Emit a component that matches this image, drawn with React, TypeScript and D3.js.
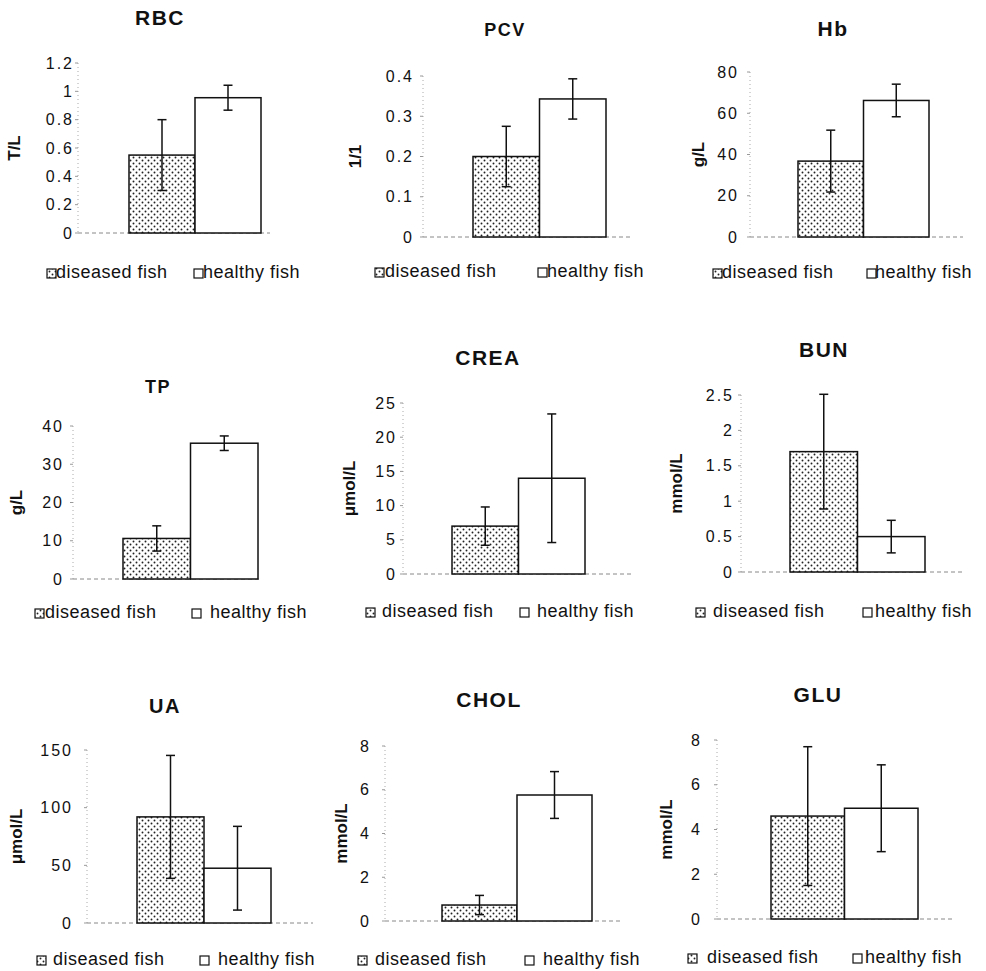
import * as d3 from "d3";
import React from "react";

// values (mean and error half-length)
const titles = ["RBC", "PCV", "Hb", "TP", "CREA", "BUN", "UA", "CHOL", "GLU"];
const units = ["T/L", "1/1", "g/L", "g/L", "μmol/L", "mmol/L", "μmol/L", "mmol/L", "mmol/L"];
const yMax = [1.2, 0.4, 80, 40, 25, 2.5, 150, 8, 8];
const yStep = [0.2, 0.1, 20, 10, 5, 0.5, 50, 2, 2];
const diseasedMean = [0.55, 0.2, 36.8, 10.6, 7.0, 1.7, 92, 0.73, 4.6];
const diseasedErr = [0.25, 0.075, 15, 3.3, 2.8, 0.81, 53.3, 0.44, 3.1];
const healthyMean = [0.955, 0.343, 66.2, 35.5, 14.0, 0.5, 47.5, 5.76, 4.95];
const healthyErr = [0.088, 0.05, 7.9, 1.9, 9.4, 0.23, 36.3, 1.07, 1.94];
const groups = ["diseased fish", "healthy fish"];

// panel frames on the page
const layout = [
  { ax: 78, tickR: 72, xEnd: 270, yTop: 63, yBase: 233, barL: 129, barR: 261, tx: 160, ty: 25, tSize: 21, lx: 14, legY: 278, leg: [47, 56, 194, 203] },
  { ax: 423, tickR: 412, xEnd: 633, yTop: 76, yBase: 237, barL: 473, barR: 606, tx: 505, ty: 36, tSize: 18, lx: 355, legY: 277, leg: [375, 385, 538, 547] },
  { ax: 750, tickR: 737, xEnd: 963, yTop: 72, yBase: 237, barL: 798, barR: 929, tx: 833, ty: 36, tSize: 21, lx: 698, legY: 278, leg: [713, 722, 867, 875] },
  { ax: 73, tickR: 62, xEnd: 262, yTop: 426, yBase: 579, barL: 123, barR: 258, tx: 158, ty: 393, tSize: 18, lx: 16, legY: 618, leg: [35, 45, 192, 210] },
  { ax: 403, tickR: 395, xEnd: 633, yTop: 403, yBase: 574, barL: 452, barR: 585, tx: 488, ty: 365, tSize: 21, lx: 349, legY: 617, leg: [366, 382, 520, 537] },
  { ax: 741, tickR: 732, xEnd: 962, yTop: 395, yBase: 572, barL: 790, barR: 925, tx: 824, ty: 357, tSize: 21, lx: 676, legY: 617, leg: [696, 713, 863, 875] },
  { ax: 87, tickR: 71, xEnd: 313, yTop: 750, yBase: 923, barL: 137, barR: 271, tx: 165, ty: 713, tSize: 20, lx: 16, legY: 965, leg: [37, 53, 200, 218] },
  { ax: 385, tickR: 369, xEnd: 620, yTop: 746, yBase: 921, barL: 442, barR: 592, tx: 489, ty: 707, tSize: 21, lx: 341, legY: 965, leg: [358, 375, 525, 543] },
  { ax: 717, tickR: 700, xEnd: 953, yTop: 740, yBase: 919, barL: 771, barR: 918, tx: 818, ty: 702, tSize: 21, lx: 666, legY: 963, leg: [688, 707, 853, 865] },
];

const font = "'Liberation Sans', Arial, sans-serif";
const ink = "#111";

const Panel = ({ i }: { i: number }) => {
  const L = layout[i];
  const y = d3.scaleLinear().domain([0, yMax[i]]).range([L.yBase, L.yTop]);
  const x = d3.scaleBand().domain(groups).range([L.barL, L.barR]).padding(0);
  const ticks = d3.range(0, yMax[i] + yStep[i] / 2, yStep[i]).map((v) => +v.toFixed(3));
  const means = [diseasedMean[i], healthyMean[i]];
  const errs = [diseasedErr[i], healthyErr[i]];

  return (
    <g>
      {/* タイトル */}
      <text x={L.tx} y={L.ty} textAnchor="middle" fontFamily={font} fontWeight="bold" fontSize={L.tSize} letterSpacing={1.5} fill={ink}>
        {titles[i]}
      </text>
      {/* 単位 */}
      <text
        transform={`translate(${L.lx}, ${(L.yTop + L.yBase) / 2}) rotate(-90)`}
        textAnchor="middle"
        dominantBaseline="central"
        fontFamily={font}
        fontWeight="bold"
        fontSize={17}
        fill={ink}
      >
        {units[i]}
      </text>
      {/* y軸 */}
      <line x1={L.ax} x2={L.ax} y1={L.yTop} y2={L.yBase} stroke="#aaa" strokeWidth={1} strokeDasharray="1,3" />
      {ticks.map((t) => (
        <g key={t}>
          <line x1={L.ax - 3} x2={L.ax} y1={y(t)} y2={y(t)} stroke="#999" />
          <text x={L.tickR + 2} y={y(t)} textAnchor="end" dominantBaseline="central" fontFamily={font} fontSize={16} letterSpacing={2} fill={ink}>
            {String(t)}
          </text>
        </g>
      ))}
      {/* x軸 */}
      <line x1={L.ax} x2={L.xEnd} y1={L.yBase} y2={L.yBase} stroke="#888" strokeWidth={1} strokeDasharray="4,3" />
      {/* 棒 */}
      {groups.map((g, k) => (
        <rect
          key={g}
          x={x(g)}
          y={y(means[k])}
          width={x.bandwidth()}
          height={L.yBase - y(means[k])}
          fill={k === 0 ? "url(#dots)" : "#fff"}
          stroke={ink}
          strokeWidth={1.5}
        />
      ))}
      {/* 誤差棒 */}
      {groups.map((g, k) => {
        const cx = (x(g) as number) + x.bandwidth() / 2;
        const top = y(means[k] + errs[k]);
        const bot = y(means[k] - errs[k]);
        return (
          <g key={g} stroke={ink} strokeWidth={1.5}>
            <line x1={cx} x2={cx} y1={top} y2={bot} />
            <line x1={cx - 4.5} x2={cx + 4.5} y1={top} y2={top} />
            <line x1={cx - 4.5} x2={cx + 4.5} y1={bot} y2={bot} />
          </g>
        );
      })}
      {/* 凡例 */}
      {groups.map((g, k) => (
        <g key={g}>
          <rect
            x={L.leg[k * 2]}
            y={L.legY - 9}
            width={9}
            height={9}
            fill={k === 0 ? "url(#dots)" : "#fff"}
            stroke={ink}
            strokeWidth={1.2}
          />
          <text x={L.leg[k * 2 + 1]} y={L.legY} fontFamily={font} fontSize={18} letterSpacing={0.5} fill={ink}>
            {g}
          </text>
        </g>
      ))}
    </g>
  );
};

export default function App() {
  return (
    <svg width={986} height={971} style={{ position: "absolute", left: 0, top: 0, background: "#fff" }}>
      <defs>
        <pattern id="dots" width={6} height={6} patternUnits="userSpaceOnUse">
          <rect width={6} height={6} fill="#fff" />
          <circle cx={1.5} cy={1.5} r={0.95} fill="#222" />
          <circle cx={4.5} cy={4.5} r={0.95} fill="#222" />
        </pattern>
      </defs>
      <rect width={986} height={971} fill="#fff" />
      {titles.map((_, i) => (
        <Panel key={i} i={i} />
      ))}
    </svg>
  );
}
